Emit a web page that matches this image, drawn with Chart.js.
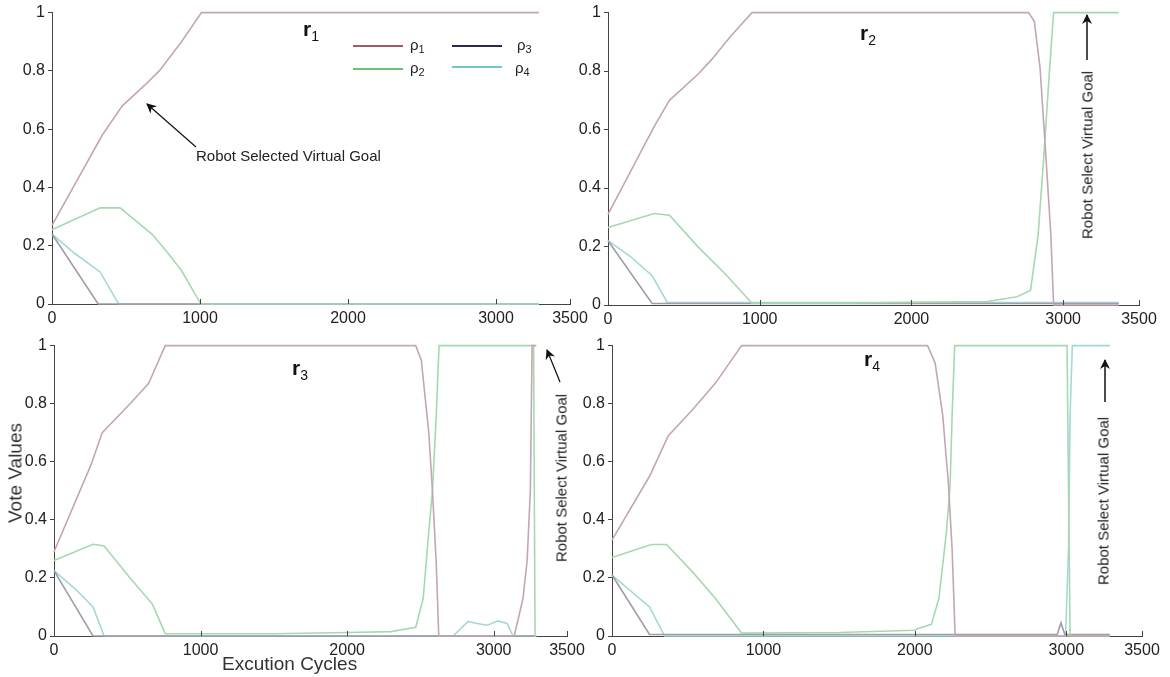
<!DOCTYPE html>
<html><head><meta charset="utf-8">
<script src="https://cdn.jsdelivr.net/npm/chart.js@4.4.0/dist/chart.umd.min.js"></script>
<style>
body{margin:0;background:#fff;width:1170px;height:677px;overflow:hidden;position:relative;font-family:"Liberation Sans",Arial,sans-serif;}
canvas.pc{position:absolute;}
.t{position:absolute;color:#111;white-space:nowrap;line-height:1;}
.title{font-size:21px;font-weight:bold;}
.title sub{font-size:14px;font-weight:normal;vertical-align:-5px;}
.ann{font-size:15px;color:#222;}
.rot{transform:translate(-50%,-50%) rotate(-90deg);}
.lg{position:absolute;height:1.5px;width:50px;}
.lt{position:absolute;font-size:15px;color:#222;line-height:1;}
.lt sub{font-size:11px;vertical-align:-3px;}
svg{position:absolute;left:0;top:0;}
</style></head>
<body>
<canvas id="c1" class="pc"></canvas>
<canvas id="c2" class="pc"></canvas>
<canvas id="c3" class="pc"></canvas>
<canvas id="c4" class="pc"></canvas>

<div class="t title" style="left:303px;top:18px">r<sub>1</sub></div>
<div class="t title" style="left:860px;top:22px">r<sub>2</sub></div>
<div class="t title" style="left:292px;top:357px">r<sub>3</sub></div>
<div class="t title" style="left:864px;top:348px">r<sub>4</sub></div>

<div class="lg" style="left:353px;top:45px;background:#a05a68"></div>
<div class="lt" style="left:410px;top:37px">ρ<sub>1</sub></div>
<div class="lg" style="left:353px;top:68px;background:#6cc070"></div>
<div class="lt" style="left:410px;top:60px">ρ<sub>2</sub></div>
<div class="lg" style="left:452px;top:45px;background:#2a2a50"></div>
<div class="lt" style="left:517px;top:37px">ρ<sub>3</sub></div>
<div class="lg" style="left:452px;top:66px;background:#70c8cc"></div>
<div class="lt" style="left:515px;top:60px">ρ<sub>4</sub></div>

<div class="t ann" style="left:196px;top:148px">Robot Selected Virtual Goal</div>
<div class="t ann rot" style="left:1087px;top:155px">Robot Select Virtual Goal</div>
<div class="t ann rot" style="left:561px;top:478px">Robot Select Virtual Goal</div>
<div class="t ann rot" style="left:1103px;top:501px">Robot Select Virtual Goal</div>

<div class="t rot" style="left:15px;top:473px;font-size:19px;color:#333">Vote Values</div>
<div class="t" style="left:222px;top:654px;font-size:19px;color:#333">Excution Cycles</div>

<svg width="1170" height="677">
<defs><marker id="ah" markerWidth="10" markerHeight="10" refX="9" refY="5" orient="auto" markerUnits="userSpaceOnUse"><path d="M0,0 L10,5 L0,10 L3,5 z" fill="#111"/></marker></defs>
<line x1="196" y1="147" x2="147" y2="104" stroke="#111" stroke-width="1.2" marker-end="url(#ah)"/>
<line x1="1087" y1="60" x2="1087" y2="15" stroke="#111" stroke-width="1.5" marker-end="url(#ah)"/>
<line x1="560" y1="382" x2="547" y2="350" stroke="#111" stroke-width="1.2" marker-end="url(#ah)"/>
<line x1="1105" y1="402" x2="1105" y2="360" stroke="#111" stroke-width="1.5" marker-end="url(#ah)"/>
</svg>

<script>
// ---- data ----
const xTicks = [0, 1000, 2000, 3000, 3500];
const yTicks = [0, 0.2, 0.4, 0.6, 0.8, 1];
const yTickLabels = ['0', '0.2', '0.4', '0.6', '0.8', '1'];
const seriesNames = ['ρ1', 'ρ2', 'ρ3', 'ρ4'];

// panel r1
const r1_rho1 = [[0,0.27],[340,0.58],[475,0.68],[625,0.75],[725,0.80],[875,0.90],[1010,1.0],[3290,1.0]];
const r1_rho2 = [[0,0.255],[325,0.33],[460,0.33],[675,0.24],[775,0.18],[875,0.115],[1000,0.005],[1010,0],[3290,0]];
const r1_rho3 = [[0,0.24],[312,0.0],[3290,0]];
const r1_rho4 = [[0,0.24],[150,0.175],[325,0.11],[450,0.0],[3290,0]];
// panel r2
const r2_rho1 = [[0,0.31],[304,0.61],[405,0.70],[595,0.79],[684,0.84],[810,0.92],[949,1.0],[2772,1.0],[2810,0.97],[2848,0.81],[2886,0.51],[2919,0.24],[2937,0.0],[3367,0]];
const r2_rho2 = [[0,0.265],[304,0.313],[405,0.307],[595,0.198],[772,0.107],[949,0.006],[1500,0.006],[2000,0.009],[2500,0.012],[2696,0.028],[2785,0.05],[2835,0.24],[2873,0.51],[2911,0.81],[2937,1.0],[3367,1.0]];
const r2_rho3 = [[0,0.22],[291,0.005],[3367,0.005]];
const r2_rho4 = [[0,0.22],[150,0.165],[291,0.10],[392,0.008],[3367,0.008]];
// panel r3
const r3_rho1 = [[0,0.29],[253,0.59],[329,0.70],[519,0.80],[646,0.87],[759,1.0],[2468,1.0],[2506,0.95],[2557,0.70],[2582,0.50],[2608,0.25],[2625,0.0],[3140,0],[3200,0.13],[3228,0.26],[3250,0.5],[3262,1.0],[3291,1.0]];
const r3_rho2 = [[0,0.26],[266,0.316],[342,0.31],[519,0.20],[671,0.11],[759,0.008],[1500,0.008],[2000,0.012],[2300,0.015],[2468,0.03],[2519,0.13],[2557,0.36],[2582,0.50],[2608,0.76],[2627,1.0],[3272,1.0],[3282,0],[3291,0]];
const r3_rho3 = [[0,0.225],[266,0.0],[3291,0]];
const r3_rho4 = [[0,0.225],[150,0.16],[266,0.10],[342,0.0],[2723,0],[2825,0.05],[2887,0.043],[2955,0.037],[3030,0.052],[3091,0.043],[3132,0],[3291,0]];
// panel r4
const r4_rho1 = [[0,0.33],[248,0.55],[372,0.69],[533,0.78],[682,0.87],[856,1.0],[2084,1.0],[2134,0.94],[2184,0.76],[2221,0.53],[2246,0.30],[2266,0.0],[3288,0]];
const r4_rho2 = [[0,0.27],[260,0.315],[360,0.315],[533,0.22],[682,0.13],[856,0.01],[1500,0.012],[2000,0.02],[2022,0.026],[2109,0.04],[2159,0.13],[2209,0.36],[2233,0.52],[2246,0.76],[2263,1.0],[3005,1.0],[3025,0],[3288,0]];
const r4_rho3 = [[0,0.21],[248,0.005],[2940,0.005],[2965,0.045],[2990,0.005],[3288,0.005]];
const r4_rho4 = [[0,0.21],[248,0.10],[347,0.0],[2995,0],[3015,0.3],[3025,0.76],[3040,1.0],[3288,1.0]];

// ---- styles / layout ----
const seriesColors = ['#c4a6ae', '#a6d8b0', '#a09ca8', '#a4d8d8'];
const axisColor = '#444';
const panels = [
  {id:'c1', area:{l:52, r:570, t:10, b:304}, series:[r1_rho1, r1_rho2, r1_rho3, r1_rho4]},
  {id:'c2', area:{l:608, r:1139, t:10, b:305}, series:[r2_rho1, r2_rho2, r2_rho3, r2_rho4]},
  {id:'c3', area:{l:54, r:567, t:343, b:636}, series:[r3_rho1, r3_rho2, r3_rho3, r3_rho4]},
  {id:'c4', area:{l:612, r:1142, t:343, b:636}, series:[r4_rho1, r4_rho2, r4_rho3, r4_rho4]}
];

const inwardTicks = {
  id: 'inwardTicks',
  afterDraw(chart) {
    const {ctx, scales: {x, y}} = chart;
    ctx.save();
    ctx.strokeStyle = axisColor;
    ctx.lineWidth = 1;
    xTicks.forEach(v => {
      const px = Math.round(x.getPixelForValue(v)) + 0.5;
      ctx.beginPath();
      ctx.moveTo(px, y.bottom);
      ctx.lineTo(px, y.bottom - 5);
      ctx.stroke();
    });
    ctx.restore();
  }
};

const Y_W = 50, X_H = 30, PAD_T = 10, PAD_R = 25;
panels.forEach(p => {
  const cv = document.getElementById(p.id);
  const left = p.area.l - Y_W, top = p.area.t - PAD_T;
  const w = p.area.r - p.area.l + Y_W + PAD_R;
  const h = p.area.b - p.area.t + PAD_T + X_H;
  cv.style.left = left + 'px';
  cv.style.top = top + 'px';
  cv.width = w; cv.height = h;
  cv.style.width = w + 'px'; cv.style.height = h + 'px';
  new Chart(cv, {
    type: 'line',
    data: {
      datasets: p.series.map((s, i) => ({
        label: seriesNames[i],
        data: s.map(([x, y]) => ({x, y})),
        borderColor: seriesColors[i],
        borderWidth: 1.6,
        pointRadius: 0,
        tension: 0,
        fill: false,
        clip: 6
      }))
    },
    options: {
      responsive: false,
      animation: false,
      devicePixelRatio: 1,
      layout: {padding: {top: PAD_T, right: PAD_R, left: 0, bottom: 0}},
      plugins: {legend: {display: false}, tooltip: {enabled: false}},
      scales: {
        x: {
          type: 'linear', min: 0, max: 3500,
          afterBuildTicks: s => { s.ticks = xTicks.map(v => ({value: v})); },
          afterFit: s => { s.height = X_H; },
          ticks: {color: '#222', font: {family: 'Liberation Sans', size: 16}, padding: 5, maxRotation: 0, autoSkip: false, callback: v => String(v)},
          grid: {drawOnChartArea: false, drawTicks: false},
          border: {display: true, color: axisColor, width: 1}
        },
        y: {
          type: 'linear', min: 0, max: 1,
          afterBuildTicks: s => { s.ticks = yTicks.map(v => ({value: v})); },
          afterFit: s => { s.width = Y_W; },
          ticks: {color: '#222', font: {family: 'Liberation Sans', size: 16}, padding: 3, autoSkip: false, callback: (v, i) => yTickLabels[i]},
          grid: {drawOnChartArea: false, drawTicks: true, tickLength: 4, color: axisColor},
          border: {display: true, color: axisColor, width: 1}
        }
      }
    },
    plugins: [inwardTicks]
  });
});
</script>
</body></html>
